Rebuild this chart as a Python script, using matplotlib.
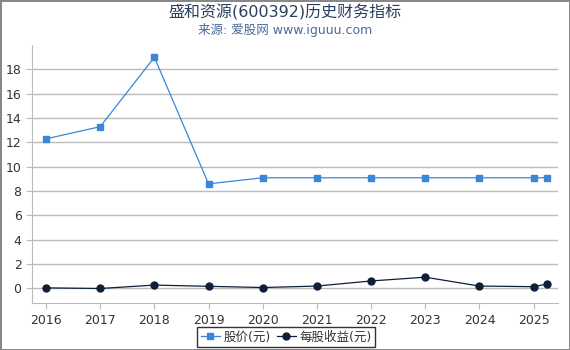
import matplotlib.pyplot as plt

plt.rcParams['font.family'] = ['DejaVu Sans', 'Noto Sans CJK SC']

years = [2016, 2017, 2018, 2019, 2020, 2021, 2022, 2023, 2024, 2025, 2025.25]
price = [12.3, 13.3, 19.0, 8.6, 9.1, 9.1, 9.1, 9.1, 9.1, 9.1, 9.1]
eps = [0.05, 0.0, 0.28, 0.18, 0.08, 0.2, 0.62, 0.93, 0.2, 0.15, 0.37]
xticks = list(range(2016, 2026))
yticks = list(range(0, 20, 2))

fig = plt.figure(figsize=(5.7, 3.5), dpi=100)
fig.patch.set_edgecolor('#888888')
fig.patch.set_linewidth(2)
ax = fig.add_axes([0.056, 0.134, 0.923, 0.737])

ax.plot(years, price, color='#3a86d8', lw=0.9, marker='s', ms=5, label='股价(元)')
ax.plot(years, eps, color='#0f1f3a', lw=0.9, marker='o', ms=5, label='每股收益(元)')

ax.set_xlim(2015.74, 2025.45)
ax.set_ylim(-1.2, 20)
ax.set_xticks(xticks)
ax.set_yticks(yticks)
ax.grid(axis='y', color='#bbbbbb', lw=1)
ax.set_axisbelow(True)
for s in ['top', 'right']:
    ax.spines[s].set_visible(False)
for s in ['left', 'bottom']:
    ax.spines[s].set_color('#bbbbbb')
ax.tick_params(colors='#bbbbbb', labelcolor='#333333', labelsize=9, length=4)

fig.text(0.5, 0.965, '盛和资源(600392)历史财务指标', ha='center', va='center',
         fontsize=11.5, color='#2a3f5f')
fig.text(0.5, 0.915, '来源: 爱股网 www.iguuu.com', ha='center', va='center',
         fontsize=9, color='#4a6a9a')

leg = fig.legend(loc='center', bbox_to_anchor=(0.502, 0.037), ncol=2, fontsize=9,
                 frameon=True, fancybox=False, edgecolor='black', handlelength=1.5,
                 handletextpad=0.3, columnspacing=0.5, borderpad=0.3,
                 labelcolor='#333333')
leg.get_frame().set_linewidth(1)

fig.savefig('out.png')
